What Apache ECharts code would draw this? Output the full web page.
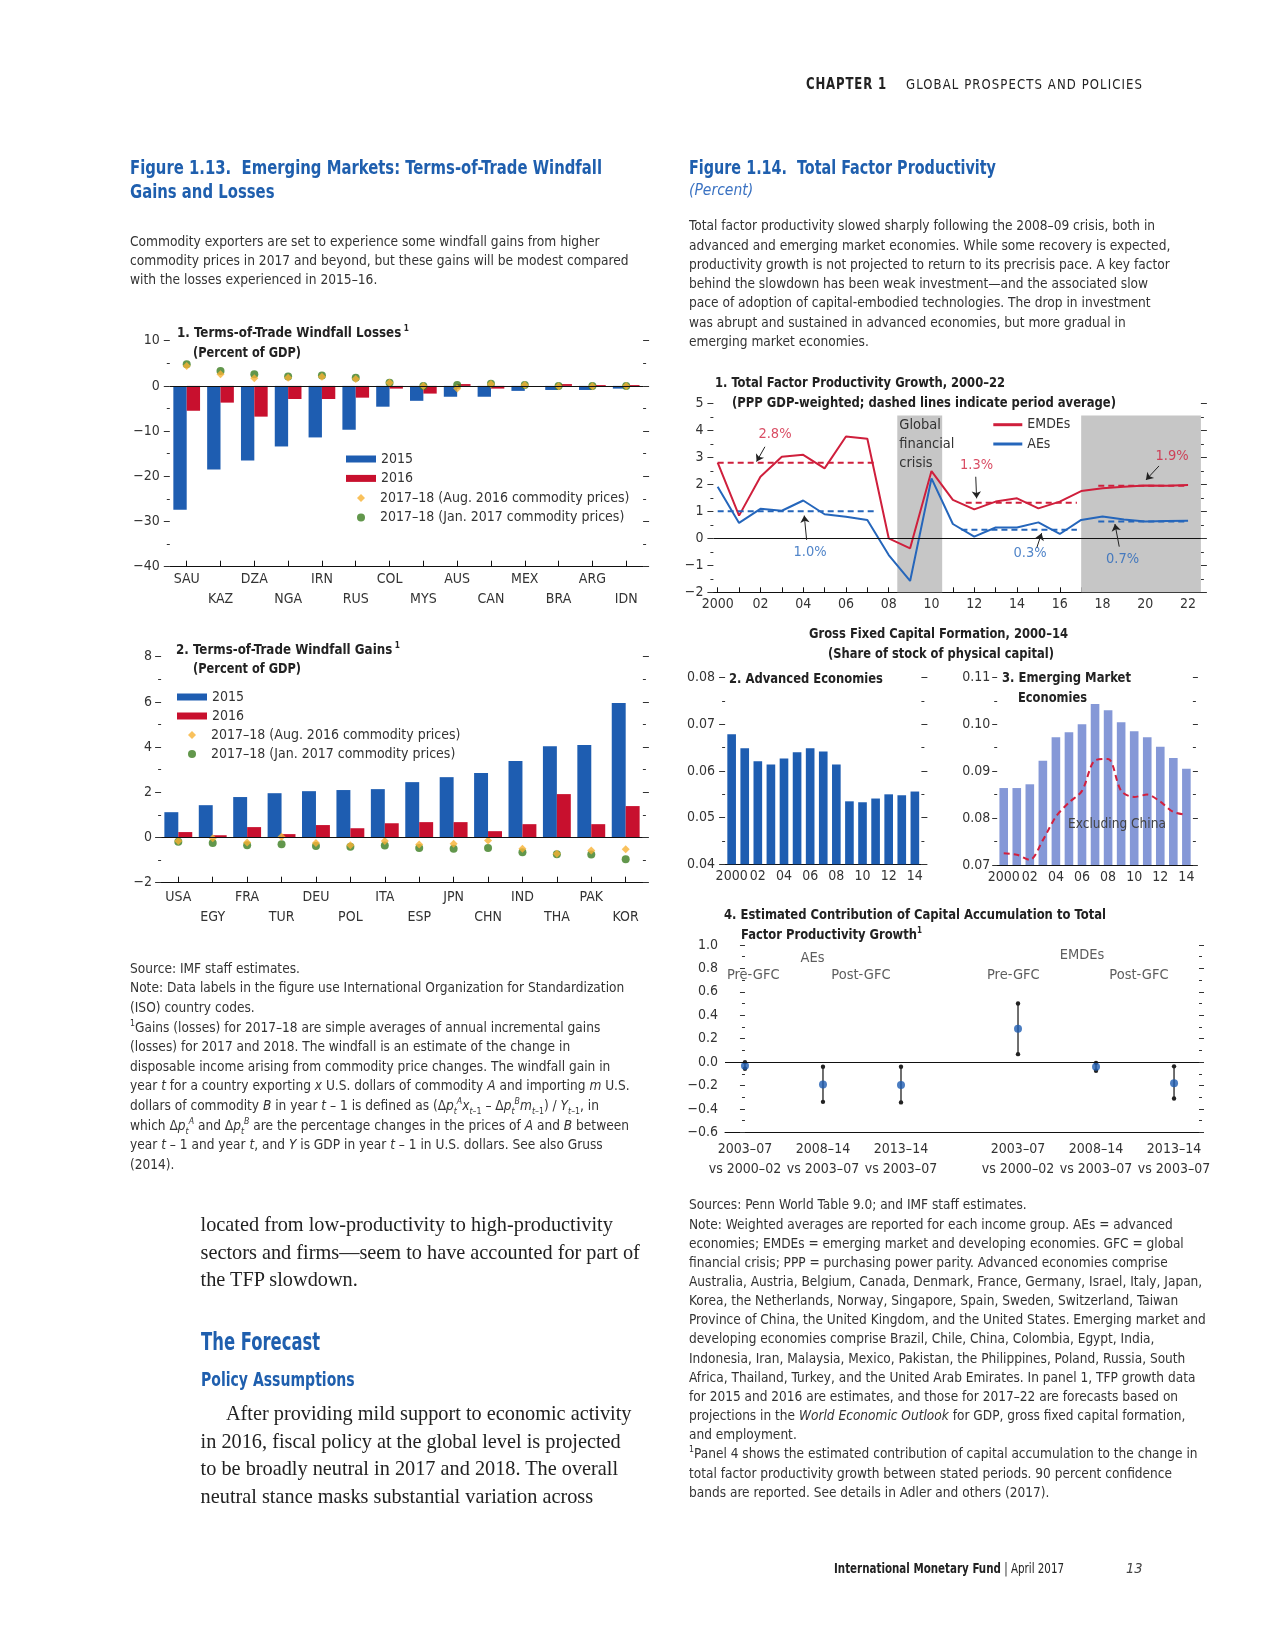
<!DOCTYPE html>
<html><head><meta charset="utf-8">
<script src="https://cdn.jsdelivr.net/npm/echarts@6/dist/echarts.min.js"></script>
<style>
body{margin:0;background:#fff;}
#page{position:relative;width:1275px;height:1650px;overflow:hidden;background:#fff;}
#chart{position:absolute;left:0;top:0;width:1275px;height:1650px;}
.t{position:absolute;white-space:nowrap;font-family:'Liberation Sans Narrow','Arial Narrow','DejaVu Sans Condensed',sans-serif;color:#333;z-index:5;}
.sm{font-size:14px;line-height:19.3px;}
.ttl{font-weight:bold;color:#1f5fae;font-size:19px;line-height:24.3px;}
.pt{font-weight:bold;color:#222;font-size:14.5px;line-height:20px;}
.serif{font-family:'Liberation Serif','DejaVu Serif',serif;color:#222;font-size:20.3px;line-height:27.5px;}
sup,sub{font-size:9px;line-height:0;}
</style></head>
<body><div id="page">
<div id="chart"></div>

<div class="t" data-w="81" style="left:806px;top:75px;font-size:15px;line-height:19px;font-weight:bold;letter-spacing:1px;color:#222;">CHAPTER 1</div>
<div class="t" data-w="237" style="left:906px;top:75px;font-size:14.5px;line-height:19px;letter-spacing:1.2px;color:#222;">GLOBAL PROSPECTS AND POLICIES</div>

<div class="t ttl" data-w="472" style="left:130px;top:154.6px;">Figure 1.13.&nbsp; Emerging Markets: Terms-of-Trade Windfall<br>Gains and Losses</div>
<div class="t sm" data-s="0.975" style="left:130px;top:232.3px;line-height:19px;">Commodity exporters are set to experience some windfall gains from higher<br>commodity prices in 2017 and beyond, but these gains will be modest compared<br>with the losses experienced in 2015–16.</div>

<div class="t pt" data-w="232" style="left:177px;top:322px;">1. Terms-of-Trade Windfall Losses<sup> 1</sup></div>
<div class="t pt" data-w="108" style="left:193px;top:342px;">(Percent of GDP)</div>
<div class="t pt" data-w="224" style="left:176px;top:639px;">2. Terms-of-Trade Windfall Gains<sup> 1</sup></div>
<div class="t pt" data-w="108" style="left:193px;top:658px;">(Percent of GDP)</div>

<div class="t sm" data-s="0.97" style="left:130px;top:958.6px;line-height:19.64px;">Source: IMF staff estimates.<br>Note: Data labels in the figure use International Organization for Standardization<br>(ISO) country codes.<br><sup>1</sup>Gains (losses) for 2017–18 are simple averages of annual incremental gains<br>(losses) for 2017 and 2018. The windfall is an estimate of the change in<br>disposable income arising from commodity price changes. The windfall gain in<br>year <i>t</i> for a country exporting <i>x</i> U.S. dollars of commodity <i>A</i> and importing <i>m</i> U.S.<br>dollars of commodity <i>B</i> in year <i>t</i> – 1 is defined as (Δ<i>p<sub>t</sub><sup>A</sup>x<sub>t</sub></i><sub>–1</sub> – Δ<i>p<sub>t</sub><sup>B</sup>m<sub>t</sub></i><sub>–1</sub>) / <i>Y<sub>t</sub></i><sub>–1</sub>, in<br>which Δ<i>p<sub>t</sub><sup>A</sup></i> and Δ<i>p<sub>t</sub><sup>B</sup></i> are the percentage changes in the prices of <i>A</i> and <i>B</i> between<br>year <i>t</i> – 1 and year <i>t</i>, and <i>Y</i> is GDP in year <i>t</i> – 1 in U.S. dollars. See also Gruss<br>(2014).</div>

<div class="t serif" style="left:200.6px;top:1211px;">located from low-productivity to high-productivity<br>sectors and firms—seem to have accounted for part of<br>the TFP slowdown.</div>
<div class="t" data-s="0.76" style="left:200.6px;top:1327.2px;font-size:24px;line-height:30px;font-weight:bold;color:#1f5fae;">The Forecast</div>
<div class="t" data-s="0.78" style="left:200.6px;top:1366.2px;font-size:20px;line-height:26px;font-weight:bold;color:#1f5fae;">Policy Assumptions</div>
<div class="t serif" style="left:200.6px;top:1400.3px;line-height:27.4px;">&nbsp;&nbsp;&nbsp;&nbsp;&nbsp;After providing mild support to economic activity<br>in 2016, fiscal policy at the global level is projected<br>to be broadly neutral in 2017 and 2018. The overall<br>neutral stance masks substantial variation across</div>

<div class="t ttl" data-w="307" style="left:689px;top:154.6px;">Figure 1.14.&nbsp; Total Factor Productivity</div>
<div class="t" style="left:689px;top:180px;font-size:15.5px;line-height:20px;font-style:italic;color:#3a72c2;">(Percent)</div>
<div class="t sm" data-s="0.972" style="left:689px;top:216.3px;">Total factor productivity slowed sharply following the 2008–09 crisis, both in<br>advanced and emerging market economies. While some recovery is expected,<br>productivity growth is not projected to return to its precrisis pace. A key factor<br>behind the slowdown has been weak investment—and the associated slow<br>pace of adoption of capital-embodied technologies. The drop in investment<br>was abrupt and sustained in advanced economies, but more gradual in<br>emerging market economies.</div>

<div class="t pt" data-w="290" style="left:715px;top:371.7px;">1. Total Factor Productivity Growth, 2000–22</div>
<div class="t pt" data-w="384" style="left:731.7px;top:391.7px;">(PPP GDP-weighted; dashed lines indicate period average)</div>
<div class="t pt" data-w="259" data-cx="938" style="left:808px;top:623.3px;">Gross Fixed Capital Formation, 2000–14</div>
<div class="t pt" data-w="226" data-cx="941" style="left:828px;top:642.7px;">(Share of stock of physical capital)</div>
<div class="t pt" data-w="154" style="left:729px;top:667.7px;">2. Advanced Economies</div>
<div class="t pt" data-w="129" style="left:1001.7px;top:667.3px;">3. Emerging Market</div>
<div class="t pt" data-w="69" style="left:1018.3px;top:687.3px;">Economies</div>
<div class="t" data-w="98" style="left:1067.7px;top:814.3px;font-size:14px;line-height:18px;color:#444;">Excluding China</div>
<div class="t pt" data-w="382" style="left:724px;top:904.3px;">4. Estimated Contribution of Capital Accumulation to Total</div>
<div class="t pt" data-w="181" style="left:740.7px;top:924px;">Factor Productivity Growth<sup>1</sup></div>

<div class="t sm" data-s="0.968" style="left:689px;top:1195.4px;line-height:19.15px;">Sources: Penn World Table 9.0; and IMF staff estimates.<br>Note: Weighted averages are reported for each income group. AEs = advanced<br>economies; EMDEs = emerging market and developing economies. GFC = global<br>financial crisis; PPP = purchasing power parity. Advanced economies comprise<br>Australia, Austria, Belgium, Canada, Denmark, France, Germany, Israel, Italy, Japan,<br>Korea, the Netherlands, Norway, Singapore, Spain, Sweden, Switzerland, Taiwan<br>Province of China, the United Kingdom, and the United States. Emerging market and<br>developing economies comprise Brazil, Chile, China, Colombia, Egypt, India,<br>Indonesia, Iran, Malaysia, Mexico, Pakistan, the Philippines, Poland, Russia, South<br>Africa, Thailand, Turkey, and the United Arab Emirates. In panel 1, TFP growth data<br>for 2015 and 2016 are estimates, and those for 2017–22 are forecasts based on<br>projections in the <i>World Economic Outlook</i> for GDP, gross fixed capital formation,<br>and employment.<br><sup>1</sup>Panel 4 shows the estimated contribution of capital accumulation to the change in<br>total factor productivity growth between stated periods. 90 percent confidence<br>bands are reported. See details in Adler and others (2017).</div>

<div class="t" data-w="230" style="left:834px;top:1558.7px;font-size:14.5px;line-height:18px;color:#222;"><span style="font-weight:bold;">International Monetary Fund</span> | April 2017</div>
<div class="t" style="left:1126px;top:1558.7px;font-size:14.5px;line-height:18px;font-style:italic;color:#444;">13</div>
</div>
<script>
// fit text blocks horizontally
document.querySelectorAll('[data-w],[data-s]').forEach(el => {
  let s;
  if (el.dataset.w) { s = parseFloat(el.dataset.w) / el.getBoundingClientRect().width; }
  else { s = parseFloat(el.dataset.s); }
  el.style.transformOrigin = 'left top';
  el.style.transform = 'scaleX(' + s + ')';
  if (el.dataset.cx) { el.style.left = (parseFloat(el.dataset.cx) - parseFloat(el.dataset.w) / 2) + 'px'; }
});

// ---------- Data ----------
const lossCountries = ['SAU','KAZ','DZA','NGA','IRN','RUS','COL','MYS','AUS','CAN','MEX','BRA','ARG','IDN'];
const loss2015 = [-27.4,-18.5,-16.5,-13.4,-11.4,-9.7,-4.6,-3.3,-2.4,-2.4,-1.1,-0.9,-0.9,-0.6];
const loss2016 = [-5.5,-3.7,-6.8,-2.9,-2.9,-2.6,-0.6,-1.7,0.4,-0.6,0.0,0.4,0.2,0.2];
const lossAug2016 = [4.4,2.6,1.7,1.8,2.0,1.5,0.7,0.0,-0.6,0.4,0.2,-0.1,-0.1,0.0];
const lossJan2017 = [4.8,3.3,2.6,2.1,2.3,1.8,0.7,0.0,0.2,0.5,0.2,0.0,0.0,0.0];

const gainCountries = ['USA','EGY','FRA','TUR','DEU','POL','ITA','ESP','JPN','CHN','IND','THA','PAK','KOR'];
const gain2015 = [1.12,1.43,1.79,1.96,2.05,2.10,2.14,2.45,2.67,2.85,3.38,4.04,4.09,5.95];
const gain2016 = [0.24,0.10,0.46,0.15,0.55,0.41,0.63,0.68,0.68,0.28,0.59,1.92,0.59,1.39];
const gainAug2016 = [-0.15,-0.03,-0.22,0.03,-0.24,-0.34,-0.15,-0.31,-0.28,-0.13,-0.50,-0.72,-0.58,-0.52];
const gainJan2017 = [-0.19,-0.24,-0.34,-0.30,-0.38,-0.41,-0.35,-0.46,-0.50,-0.46,-0.65,-0.74,-0.75,-0.96];

const tfpYears = [2000,2001,2002,2003,2004,2005,2006,2007,2008,2009,2010,2011,2012,2013,2014,2015,2016,2017,2018,2019,2020,2021,2022];
const tfpEMDEs = [2.80,0.84,2.28,3.02,3.09,2.59,3.77,3.69,0.00,-0.37,2.49,1.42,1.07,1.36,1.48,1.11,1.36,1.75,1.85,1.91,1.96,1.95,1.97];
const tfpAEs   = [1.91,0.57,1.09,1.02,1.40,0.89,0.80,0.68,-0.62,-1.58,2.22,0.53,0.06,0.40,0.40,0.59,0.16,0.68,0.81,0.70,0.62,0.64,0.65];
const tfpAvgEMDEs = [[2000,2007.3,2.80],[2011.6,2016.8,1.32],[2017.8,2022,1.95]];
const tfpAvgAEs   = [[2000,2007.3,1.00],[2011.4,2016.8,0.32],[2017.8,2022,0.62]];
const tfpShade = [[2008.4,2010.5],[2017.0,2022.6]];
const tfpNotes = [['2.8%',2002.68,3.87,'r'],['1.0%',2004.32,-0.53,'b'],['1.3%',2012.11,2.71,'r'],['0.3%',2014.61,-0.56,'b'],['0.7%',2018.94,-0.78,'b'],['1.9%',2021.25,3.05,'r']];
const tfpArrows = [[2002.21,3.39,2001.82,2.84],[2004.16,-0.06,2004.05,0.84],[2012.07,2.28,2012.11,1.48],[2014.92,-0.36,2015.15,0.19],[2018.78,-0.31,2018.58,0.53],[2020.64,2.68,2020.03,2.16]];
const tfpTickLabels = [2000,2002,2004,2006,2008,2010,2012,2014,2016,2018,2020,2022];

const gfcfYears = ['2000','2001','2002','2003','2004','2005','2006','2007','2008','2009','2010','2011','2012','2013','2014'];
const gfcfAEs = [0.0679,0.0649,0.0621,0.0614,0.0627,0.0640,0.0649,0.0642,0.0614,0.0535,0.0533,0.0541,0.0550,0.0548,0.0556];
const gfcfEMEs = [0.0864,0.0864,0.0872,0.0922,0.0972,0.0983,0.1000,0.1043,0.1030,0.1004,0.0985,0.0972,0.0952,0.0928,0.0905];
const gfcfEMEsExChina = [0.0725,0.0722,0.0711,0.0753,0.0803,0.0833,0.0858,0.0923,0.0926,0.0858,0.0845,0.0850,0.0835,0.0813,0.0807];

const capPositions = [0,1,2,3.5,4.5,5.5];
const capLabels = ['2003–07\nvs 2000–02','2008–14\nvs 2003–07','2013–14\nvs 2003–07','2003–07\nvs 2000–02','2008–14\nvs 2003–07','2013–14\nvs 2003–07'];
const capEstimate = [-0.03,-0.19,-0.196,0.285,-0.04,-0.18];
const capLow  = [-0.057,-0.339,-0.344,0.068,-0.074,-0.31];
const capHigh = [0.0,-0.04,-0.04,0.50,-0.006,-0.036];
const capNotes = [['AEs',0.865,0.888],['Pre-GFC',0.106,0.745],['Post-GFC',1.487,0.745],['EMDEs',4.32,0.916],['Pre-GFC',3.44,0.745],['Post-GFC',5.05,0.745]];

// ---------- Styles ----------
const F = "'Liberation Sans Narrow','Arial Narrow','DejaVu Sans Condensed',sans-serif";
const TXT = '#333', TICK = '#333';
const BLUE = '#1e5db1', RED = '#c8102e', YEL = '#f8b133', GRN = '#3b7d1f', LBLUE = '#8598d7';
const LRED = '#cf1f3c', LBL = '#2566bb';
const AUG = '2017–18 (Aug. 2016 commodity prices)';
const JAN = '2017–18 (Jan. 2017 commodity prices)';

function minus(v, d) { return (v < 0 ? '−' : '') + Math.abs(v).toFixed(d); }

function yPair(gi, min, max, interval, dec, margin, tickLen) {
  const base = {
    gridIndex: gi, type: 'value', min: min, max: max, interval: interval,
    splitLine: { show: false }, axisLine: { show: false },
    minorTick: { show: true, splitNumber: 2, length: 3, lineStyle: { color: TICK } },
    minorSplitLine: { show: false }
  };
  return [
    Object.assign({}, base, { position: 'left',
      axisTick: { show: true, length: tickLen, lineStyle: { color: TICK } },
      axisLabel: { show: true, margin: margin, color: TXT, fontFamily: F, fontSize: 14, formatter: v => minus(v, dec) } }),
    Object.assign({}, base, { position: 'right',
      axisTick: { show: true, length: tickLen, lineStyle: { color: TICK } },
      axisLabel: { show: false } })
  ];
}

const axisLine = { show: true, onZero: false, lineStyle: { color: '#111', width: 1 } };
const lbl = { color: TXT, fontFamily: F, fontSize: 14 };
const zeroLine = { silent: true, symbol: ['none', 'none'], label: { show: false }, lineStyle: { color: '#111', width: 1, type: 'solid' }, data: [{ yAxis: 0 }] };

const grids = [
  { left: 169.8, top: 340.7, width: 473.3, height: 226 },
  { left: 161.1, top: 656.7, width: 481.8, height: 226 },
  { left: 713.4, top: 403.3, width: 487.5, height: 189 },
  { left: 725.1, top: 677.7, width: 196.3, height: 186.6 },
  { left: 997.2, top: 677.3, width: 195.7, height: 187.7 },
  { left: 725, top: 945, width: 474, height: 187.4 }
].map(g => Object.assign(g, { containLabel: false, outerBoundsMode: 'none' }));

const xAxes = [
  { gridIndex: 0, type: 'category', data: lossCountries, axisLine: axisLine,
    axisTick: { show: true, inside: true, length: 6, alignWithLabel: true, lineStyle: { color: '#111' } },
    axisLabel: Object.assign({}, lbl, { interval: 0, margin: 3, lineHeight: 20, formatter: (v, i) => (i % 2 ? '\n' + v : v) }) },
  { gridIndex: 1, type: 'category', data: gainCountries, axisLine: axisLine,
    axisTick: { show: true, inside: true, length: 6, alignWithLabel: true, lineStyle: { color: '#111' } },
    axisLabel: Object.assign({}, lbl, { interval: 0, margin: 5, lineHeight: 20, formatter: (v, i) => (i % 2 ? '\n' + v : v) }) },
  { gridIndex: 2, type: 'value', min: 1999.8, max: 2022.6, splitLine: { show: false }, axisLine: axisLine,
    axisTick: { show: true, inside: true, length: 5, customValues: tfpYears, lineStyle: { color: '#111' } },
    axisLabel: Object.assign({}, lbl, { margin: 5, customValues: tfpTickLabels, formatter: v => (v === 2000 ? '2000' : String(v).slice(2)) }) },
  { gridIndex: 3, type: 'category', data: gfcfYears, axisLine: axisLine, axisTick: { show: false },
    axisLabel: Object.assign({}, lbl, { margin: 5, interval: (i) => i % 2 === 0, formatter: (v, i) => (i === 0 ? v : v.slice(2)) }) },
  { gridIndex: 4, type: 'category', data: gfcfYears, axisLine: axisLine, axisTick: { show: false },
    axisLabel: Object.assign({}, lbl, { margin: 5, interval: (i) => i % 2 === 0, formatter: (v, i) => (i === 0 ? v : v.slice(2)) }) },
  { gridIndex: 5, type: 'value', min: -0.256, max: 5.82, splitLine: { show: false }, axisLine: axisLine,
    axisTick: { show: false },
    axisLabel: Object.assign({}, lbl, { margin: 7, lineHeight: 20, customValues: capPositions,
      formatter: v => { const i = capPositions.indexOf(v); return i >= 0 ? capLabels[i] : ''; } }) }
];

const yAxes = [].concat(
  yPair(0, -40, 10, 10, 0, 10, 6),
  yPair(1, -2, 8, 2, 0, 9, 6),
  yPair(2, -2, 5, 1, 0, 10, 6),
  yPair(3, 0.04, 0.08, 0.01, 2, 10, 6),
  yPair(4, 0.07, 0.11, 0.01, 2, 7, 5),
  yPair(5, -0.6, 1.0, 0.2, 1, 7, 5)
);

const series = [];
// Panel 1.13-1
series.push({ name: '2015', type: 'bar', xAxisIndex: 0, yAxisIndex: 0, data: loss2015, itemStyle: { color: BLUE }, barGap: '0%', barCategoryGap: '21%', markLine: zeroLine });
series.push({ name: '2016', type: 'bar', xAxisIndex: 0, yAxisIndex: 0, data: loss2016, itemStyle: { color: RED }, barGap: '0%', barCategoryGap: '21%' });
series.push({ name: JAN, type: 'scatter', xAxisIndex: 0, yAxisIndex: 0, data: lossJan2017, symbol: 'circle', symbolSize: 8, itemStyle: { color: GRN }, z: 3 });
series.push({ name: AUG, type: 'scatter', xAxisIndex: 0, yAxisIndex: 0, data: lossAug2016, symbol: 'diamond', symbolSize: 8, itemStyle: { color: YEL }, z: 4 });
// Panel 1.13-2
series.push({ name: '2015', type: 'bar', xAxisIndex: 1, yAxisIndex: 2, data: gain2015, itemStyle: { color: BLUE }, barGap: '0%', barCategoryGap: '19%', markLine: zeroLine });
series.push({ name: '2016', type: 'bar', xAxisIndex: 1, yAxisIndex: 2, data: gain2016, itemStyle: { color: RED }, barGap: '0%', barCategoryGap: '19%' });
series.push({ name: JAN, type: 'scatter', xAxisIndex: 1, yAxisIndex: 2, data: gainJan2017, symbol: 'circle', symbolSize: 8, itemStyle: { color: GRN }, z: 3 });
series.push({ name: AUG, type: 'scatter', xAxisIndex: 1, yAxisIndex: 2, data: gainAug2016, symbol: 'diamond', symbolSize: 8, itemStyle: { color: YEL }, z: 4 });

// Panel 1.14-1
series.push({ name: 'shade', type: 'line', xAxisIndex: 2, yAxisIndex: 4, data: [], z: 1, silent: true,
  markArea: { silent: true, itemStyle: { color: '#c6c6c6' }, label: { show: false },
    data: tfpShade.map((s, i) => [
      Object.assign({ xAxis: s[0], yAxis: -2 }, i === 0 ? { label: { show: true, position: 'insideTopLeft', distance: 0, offset: [2, 0], formatter: 'Global\nfinancial\ncrisis', color: '#333', fontFamily: F, fontSize: 14.5, lineHeight: 19.2 } } : {}),
      { xAxis: s[1], yAxis: 4.55 }]) },
  markLine: zeroLine });
series.push({ name: 'EMDEs', type: 'line', xAxisIndex: 2, yAxisIndex: 4, data: tfpYears.map((y, i) => [y, tfpEMDEs[i]]), symbol: 'none', lineStyle: { color: LRED, width: 2 }, itemStyle: { color: LRED }, z: 3 });
series.push({ name: 'AEs', type: 'line', xAxisIndex: 2, yAxisIndex: 4, data: tfpYears.map((y, i) => [y, tfpAEs[i]]), symbol: 'none', lineStyle: { color: LBL, width: 2 }, itemStyle: { color: LBL }, z: 3 });
tfpAvgEMDEs.forEach(a => series.push({ name: 'avgE', type: 'line', xAxisIndex: 2, yAxisIndex: 4, data: [[a[0], a[2]], [a[1], a[2]]], symbol: 'none', silent: true, lineStyle: { color: LRED, width: 2, type: [6, 4] }, z: 4 }));
tfpAvgAEs.forEach(a => series.push({ name: 'avgA', type: 'line', xAxisIndex: 2, yAxisIndex: 4, data: [[a[0], a[2]], [a[1], a[2]]], symbol: 'none', silent: true, lineStyle: { color: LBL, width: 2, type: [6, 4] }, z: 4 }));
series.push({ name: 'notes', type: 'scatter', xAxisIndex: 2, yAxisIndex: 4, symbolSize: 0, silent: true, z: 6,
  data: tfpNotes.map(n => ({ value: [n[1], n[2]], name: n[0], label: { color: n[3] === 'r' ? LRED : LBL } })),
  label: { show: true, position: 'inside', formatter: p => p.name, fontFamily: F, fontSize: 14.5 },
  markLine: { silent: true, symbol: ['none', 'arrow'], symbolSize: 7, label: { show: false }, lineStyle: { color: '#222', width: 1, type: 'solid' },
    data: tfpArrows.map(a => [{ coord: [a[0], a[1]] }, { coord: [a[2], a[3]] }]) } });

// Panel 1.14-2 and 3
series.push({ name: 'gfcfAE', type: 'bar', xAxisIndex: 3, yAxisIndex: 6, data: gfcfAEs, itemStyle: { color: BLUE }, barCategoryGap: '34%' });
series.push({ name: 'gfcfEME', type: 'bar', xAxisIndex: 4, yAxisIndex: 8, data: gfcfEMEs, itemStyle: { color: LBLUE }, barCategoryGap: '34%' });
series.push({ name: 'Excluding China', type: 'line', xAxisIndex: 4, yAxisIndex: 8, data: gfcfEMEsExChina, symbol: 'none', smooth: 0.3, lineStyle: { color: '#d2203e', width: 2, type: [6, 4] }, z: 4 });

// Panel 1.14-4
series.push({ name: 'band', type: 'custom', xAxisIndex: 5, yAxisIndex: 10, z: 3,
  data: capPositions.map((x, i) => [x, capLow[i], capHigh[i]]),
  encode: { x: 0, y: [1, 2] },
  renderItem: (params, api) => {
    const x = api.value(0), lo = api.value(1), hi = api.value(2);
    const p1 = api.coord([x, hi]), p2 = api.coord([x, lo]);
    return { type: 'group', children: [
      { type: 'line', shape: { x1: p1[0], y1: p1[1], x2: p2[0], y2: p2[1] }, style: { stroke: '#222', lineWidth: 1.3 } },
      { type: 'circle', shape: { cx: p1[0], cy: p1[1], r: 2.2 }, style: { fill: '#222' } },
      { type: 'circle', shape: { cx: p2[0], cy: p2[1], r: 2.2 }, style: { fill: '#222' } }
    ] };
  } });
series.push({ name: 'estimate', type: 'scatter', xAxisIndex: 5, yAxisIndex: 10, z: 4, data: capPositions.map((x, i) => [x, capEstimate[i]]), symbol: 'circle', symbolSize: 8, itemStyle: { color: BLUE }, markLine: zeroLine });
series.push({ name: 'capNotes', type: 'scatter', xAxisIndex: 5, yAxisIndex: 10, symbolSize: 0, silent: true, z: 5,
  data: capNotes.map(n => ({ value: [n[1], n[2]], name: n[0] })),
  label: { show: true, position: 'inside', formatter: p => p.name, color: '#333', fontFamily: F, fontSize: 14.5 } });

const legText = { color: TXT, fontFamily: F, fontSize: 14, lineHeight: 16 };
const legBars = [{ name: '2015', icon: 'rect' }, { name: '2016', icon: 'rect' }];
const legDots = [{ name: AUG, icon: 'diamond' }, { name: JAN, icon: 'circle' }];
const dotText = Object.assign({}, legText, { padding: [0, 0, 0, 10] });
const option = {
  animation: false,
  backgroundColor: 'transparent',
  textStyle: { fontFamily: F },
  grid: grids,
  xAxis: xAxes,
  yAxis: yAxes,
  legend: [
    { left: 346, top: 451, orient: 'vertical', padding: 0, itemWidth: 30, itemHeight: 7, itemGap: 3.4, selectedMode: false, textStyle: legText, data: legBars },
    { left: 357, top: 490, orient: 'vertical', padding: 0, itemWidth: 8, itemHeight: 8, itemGap: 3.4, selectedMode: false, textStyle: dotText, data: legDots },
    { left: 177, top: 689, orient: 'vertical', padding: 0, itemWidth: 30, itemHeight: 7, itemGap: 3.0, selectedMode: false, textStyle: legText, data: legBars },
    { left: 188, top: 727, orient: 'vertical', padding: 0, itemWidth: 8, itemHeight: 8, itemGap: 3.0, selectedMode: false, textStyle: dotText, data: legDots },
    { left: 993.3, top: 416.7, orient: 'vertical', padding: 0, itemWidth: 29, itemHeight: 3, itemGap: 3.3, selectedMode: false, textStyle: legText, data: [{ name: 'EMDEs', icon: 'rect' }, { name: 'AEs', icon: 'rect' }] }
  ],
  series: series
};
const chart = echarts.init(document.getElementById('chart'), null, { renderer: 'canvas' });
chart.setOption(option);
</script>
</body></html>
